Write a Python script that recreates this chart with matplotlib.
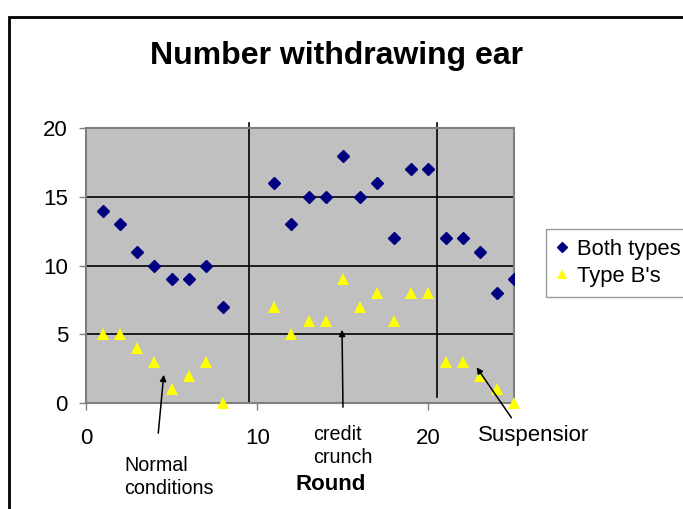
import numpy as np
import matplotlib.pyplot as plt
from matplotlib.patches import Rectangle, FancyArrowPatch
from matplotlib.transforms import Bbox

plt.rcParams['font.family'] = ['Liberation Sans', 'DejaVu Sans']

# data
rounds = [1, 2, 3, 4, 5, 6, 7, 8,
          11, 12, 13, 14, 15, 16, 17, 18, 19, 20,
          21, 22, 23, 24, 25]
both_types = [14, 13, 11, 10, 9, 9, 10, 7,
              16, 13, 15, 15, 18, 15, 16, 12, 17, 17,
              12, 12, 11, 8, 9]
type_b = [5, 5, 4, 3, 1, 2, 3, 0,
          7, 5, 6, 6, 9, 7, 8, 6, 8, 8,
          3, 3, 2, 1, 0]

# phase separators
phase_x = [9.5, 20.5]
phase_bottom = [0, 0.45]
phase_top = 20.35

W, H = 683, 509
fig = plt.figure(figsize=(W / 100, H / 100), dpi=100)


def fxy(px, py):
    # image pixel (from top-left) -> figure fraction
    return px / W, 1 - py / H


ax = fig.add_axes([86 / W, 1 - 403 / H, (514 - 86) / W, (403 - 128) / H])
ax.set_facecolor('#c0c0c0')
ax.set_xlim(0, 25)
ax.set_ylim(0, 20)
ax.set_xticks([0, 10, 20])
ax.set_yticks([0, 5, 10, 15, 20])
for s in ax.spines.values():
    s.set_color('#808080')
    s.set_linewidth(1.5)
ax.tick_params(axis='both', direction='out', length=5, width=1, color='#808080',
               labelsize=16, labelcolor='black')
ax.tick_params(axis='x', pad=13)
ax.tick_params(axis='y', pad=8)

for yv in [5, 10, 15]:
    ax.axhline(yv, color='black', lw=1.2, zorder=1)
for xv, yb in zip(phase_x, phase_bottom):
    ax.plot([xv, xv], [yb, phase_top], color='black', lw=1.2, clip_on=False, zorder=1)

ax.plot(rounds, both_types, linestyle='none', marker='D', markersize=6,
        color='#000080', label='Both types', zorder=3)
ax.plot(rounds, type_b, linestyle='none', marker='^', markersize=8.5,
        color='#ffff00', markeredgewidth=0, label="Type B's", zorder=3, clip_on=False)

fig.text(*fxy(337, 56), 'Number withdrawing ear', ha='center', va='center',
         fontsize=23, fontweight='bold')
fig.text(*fxy(331, 484), 'Round', ha='center', va='center', fontsize=16,
         fontweight='bold')

# annotations
fig.text(*fxy(124, 477), 'Normal\nconditions', ha='left', va='center',
         fontsize=14.2, linespacing=1.25)
fig.text(*fxy(313, 446), 'credit\ncrunch', ha='left', va='center',
         fontsize=14.2, linespacing=1.25)
susp = fig.text(*fxy(478, 436), 'Suspension', ha='left', va='center', fontsize=16)
# the original label is cut off by the chart area
susp.set_clip_box(Bbox.from_extents(0, 0, 588, H))
susp.set_clip_on(True)

arrows = [((158, 436), (164, 372)),
          ((343, 410), (342, 327)),
          ((513, 420), (475, 365))]
for tail, head in arrows:
    fig.add_artist(FancyArrowPatch(
        fxy(*tail), fxy(*head), transform=fig.transFigure,
        arrowstyle='-|>', mutation_scale=9, color='black', lw=1.1))

leg = ax.legend(loc='upper left', bbox_to_anchor=fxy(546, 229),
                bbox_transform=fig.transFigure, borderaxespad=0,
                frameon=True, fancybox=False, fontsize=15.8,
                handlelength=0.6, handletextpad=0.35, borderpad=0.45,
                labelspacing=0.28, markerscale=0.8)
leg.get_frame().set_edgecolor('#808080')
leg.get_frame().set_linewidth(1)

# outer frame of the chart (cropped on the right and bottom)
fig.add_artist(Rectangle(fxy(9, 600), 800 / W, (600 - 17) / H,
                         transform=fig.transFigure, fill=False,
                         edgecolor='black', lw=2))

fig.savefig('out.png', dpi=100)
